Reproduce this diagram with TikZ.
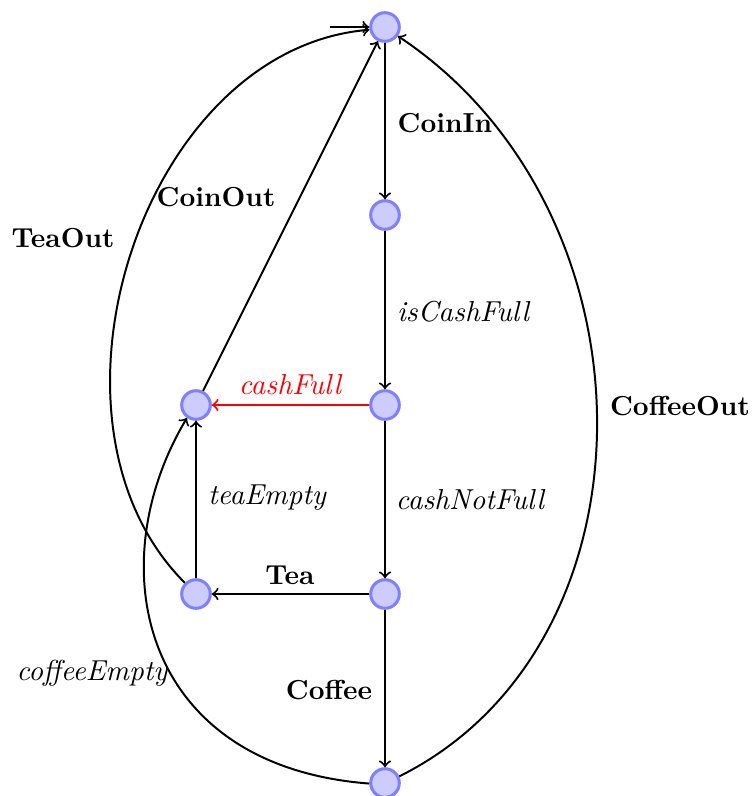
\documentclass[tikz,border=0pt]{standalone}
\usepackage{amsmath}
\begin{document}
\begin{tikzpicture}[x=0.3636pt,y=-0.3636pt,
  state/.style={circle,draw=blue!50,fill=blue!20,line width=1.1pt,inner sep=0pt,minimum size=10.4pt},
  edge/.style={->,line width=0.72pt},
  lbl/.style={inner sep=0pt},
  ilbl/.style={inner sep=0pt,font=\fontsize{10.5}{12}\selectfont\itshape}]
\useasboundingbox (0,0) rectangle (755,796);
\node[state] (A) at (385,27) {};
\node[state] (B) at (385,215) {};
\node[state] (C) at (385,405) {};
\node[state] (G) at (196,405) {};
\node[state] (D) at (385,594) {};
\node[state] (E) at (196,594) {};
\node[state] (F) at (385,783) {};
\coordinate (init) at (330,27);
\draw[edge] (init) -- (A);
\draw[edge] (A) -- (B);
\draw[edge] (B) -- (C);
\draw[edge,red] (C) -- (G);
\draw[edge] (G) -- (A);
\draw[edge] (C) -- (D);
\draw[edge] (D) -- (E);
\draw[edge] (E) -- (G);
\draw[edge] (D) -- (F);
\draw[edge] (E.135) .. controls (23,421) and (142,49) .. (A.190);
\draw[edge] (F.25) .. controls (663,645) and (663,213) .. (A.-35);
\draw[edge] (F.182) .. controls (140,766) and (99,565) .. (G.235);
\node[lbl] (lCoinIn) at (445,123) {\textbf{CoinIn}};
\node[ilbl] (lisCash) at (463,312) {isCashFull};
\node[ilbl,red] (lcashFull) at (290,385) {cashFull};
\node[lbl] (lCoinOut) at (216,197) {\textbf{CoinOut}};
\node[lbl] (lTeaOut) at (63,238) {\textbf{TeaOut}};
\node[lbl] (lCoffeeOut) at (680,406) {\textbf{CoffeeOut}};
\node[ilbl] (lteaEmpty) at (267,498) {teaEmpty};
\node[ilbl] (lcashNot) at (470,500) {cashNotFull};
\node[lbl] (lTea) at (290,575) {\textbf{Tea}};
\node[ilbl] (lcoffeeEmpty) at (92,673) {coffeeEmpty};
\node[lbl] (lCoffee) at (329,690) {\textbf{Coffee}};
\end{tikzpicture}
\end{document}
